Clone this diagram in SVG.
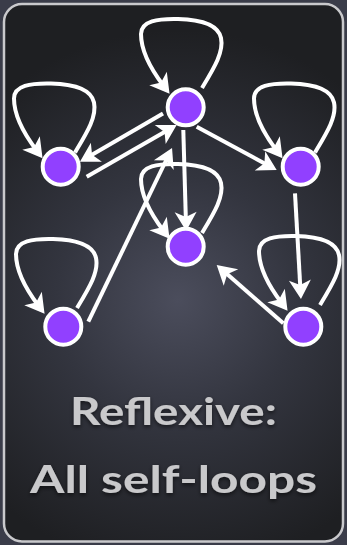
<svg xmlns="http://www.w3.org/2000/svg" width="347" height="545" viewBox="0 0 347 545">
  <defs>
    <radialGradient id="cardFill" gradientUnits="userSpaceOnUse" cx="178" cy="300" r="270">
      <stop offset="0" stop-color="#4b4d5c"/>
      <stop offset="0.45" stop-color="#33353f"/>
      <stop offset="1" stop-color="#1e1f22"/>
    </radialGradient>
    <marker id="arrow" markerUnits="userSpaceOnUse" markerWidth="40" markerHeight="40" refX="0" refY="0" orient="auto" overflow="visible">
      <path d="M 10 0 L -9 -11 L -4 0 L -9 11 Z" fill="#ffffff"/>
    </marker>
    <filter id="textShadow" x="-10%" y="-30%" width="120%" height="160%">
      <feDropShadow dx="0" dy="2" stdDeviation="2" flood-color="#000000" flood-opacity="0.6"/>
    </filter>
  </defs>
  <style>
    .edge { fill: none; stroke: #ffffff; stroke-width: 4; marker-end: url(#arrow); }
    .node circle { fill: #9140ff; stroke: #ffffff; stroke-width: 4; }
    .caption { font-family: Lato, "Open Sans", sans-serif; font-weight: 700; font-size: 38px; fill: #c9c9cb; text-anchor: middle; }
  </style>

  <!-- backdrop and card -->
  <rect x="0" y="0" width="347" height="545" fill="#3a3c49"/>
  <rect x="4" y="4" width="339" height="537.5" rx="18" ry="18" fill="url(#cardFill)" stroke="#c9c9cc" stroke-width="2.5"/>

  <!-- connectors: self-loops first, then edges between nodes -->
  <g id="connectors">
    <path class="edge" transform="translate(202,88)" d="M 0,0 C 12,-20 22,-36 19,-50 C 16,-64 -4,-68.5 -24,-69 C -44,-69.5 -61,-67 -61,-54 C -61,-38 -52,-20 -38.5,-2.3"/>
    <path class="edge" transform="translate(75,152.5)" d="M 0,0 C 12,-20 22,-36 19,-50 C 16,-64 -4,-68.5 -24,-69 C -44,-69.5 -61,-67 -61,-54 C -61,-38 -52,-20 -38.5,-2.3"/>
    <path class="edge" transform="translate(315,152.5)" d="M 0,0 C 12,-20 22,-36 19,-50 C 16,-64 -4,-68.5 -24,-69 C -44,-69.5 -61,-67 -61,-54 C -61,-38 -52,-20 -38.5,-2.3"/>
    <path class="edge" transform="translate(202,233)" d="M 0,0 C 12,-20 22,-36 19,-50 C 16,-64 -4,-68.5 -24,-69 C -44,-69.5 -61,-67 -61,-54 C -61,-38 -52,-20 -38.5,-2.3"/>
    <path class="edge" transform="translate(77,308)" d="M 0,0 C 12,-20 22,-36 19,-50 C 16,-64 -4,-68.5 -24,-69 C -44,-69.5 -61,-67 -61,-54 C -61,-38 -52,-20 -38.5,-2.3"/>
    <path class="edge" transform="translate(320,305)" d="M 0,0 C 12,-20 22,-36 19,-50 C 16,-64 -4,-68.5 -24,-69 C -44,-69.5 -61,-67 -61,-54 C -61,-38 -52,-20 -38.5,-2.3"/>

    <path class="edge" d="M 163,113.5 L 88.6,156.7"/>
    <path class="edge" d="M 86.7,176.7 L 168,130"/>
    <path class="edge" d="M 196.7,126.7 L 267.9,165.2"/>
    <path class="edge" d="M 183.3,130 L 185.9,221"/>
    <path class="edge" d="M 88.3,321.7 L 167.7,157"/>
    <path class="edge" d="M 295,193.3 L 300.4,289"/>
    <path class="edge" d="M 283.3,323.3 L 224.2,271.6"/>
  </g>

  <!-- nodes -->
  <g id="node-top" class="node"><circle cx="185.7" cy="107.3" r="18"/></g>
  <g id="node-left" class="node"><circle cx="60.7" cy="166.7" r="18"/></g>
  <g id="node-right" class="node"><circle cx="300.7" cy="166.7" r="18"/></g>
  <g id="node-center" class="node"><circle cx="185.7" cy="246.7" r="18"/></g>
  <g id="node-bottom-left" class="node"><circle cx="63.3" cy="326.7" r="18"/></g>
  <g id="node-bottom-right" class="node"><circle cx="303.3" cy="326.7" r="18"/></g>

  <!-- caption -->
  <g id="caption" filter="url(#textShadow)">
    <text class="caption" x="173.5" y="425" textLength="207" lengthAdjust="spacingAndGlyphs">Reflexive:</text>
    <text class="caption" x="173.5" y="493" textLength="287" lengthAdjust="spacingAndGlyphs">All self-loops</text>
  </g>
</svg>
